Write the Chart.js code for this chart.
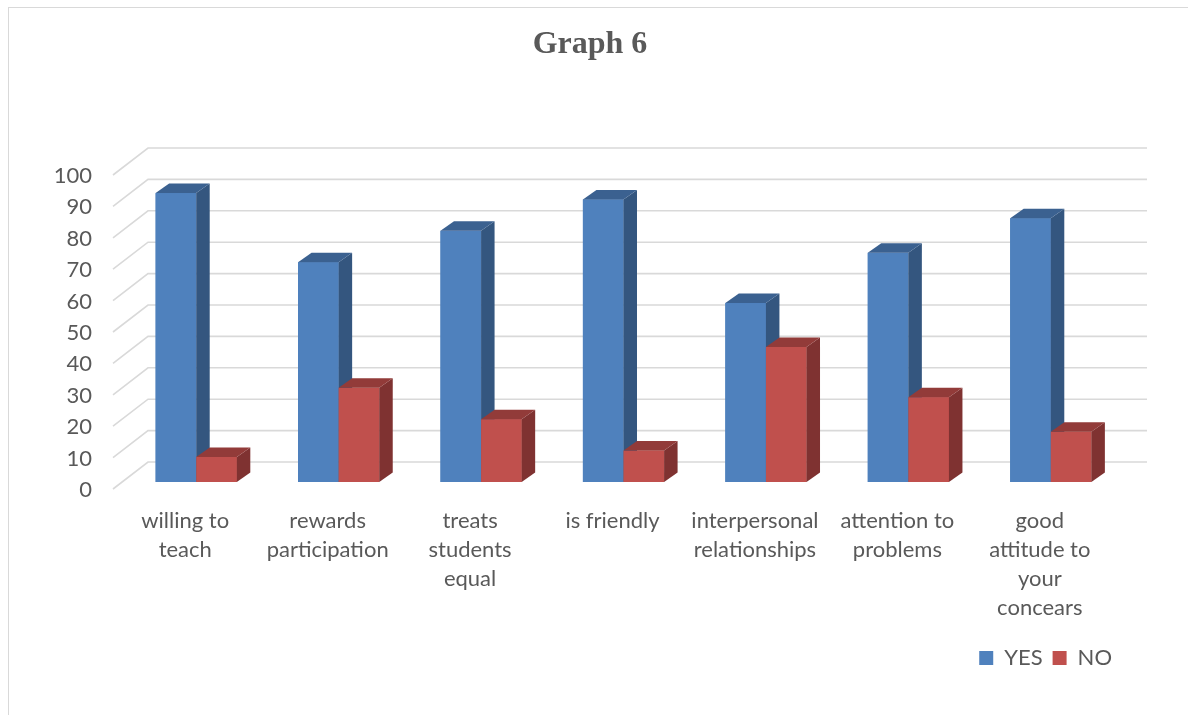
<!DOCTYPE html>
<html>
<head>
<meta charset="utf-8">
<title>Graph 6</title>
<script src="https://cdn.jsdelivr.net/npm/chart.js@4.4.0/dist/chart.umd.min.js"></script>
<style>
    html, body { margin: 0; padding: 0; background: #fff; overflow: hidden; }
    #frame {
        position: absolute; left: 8px; top: 7px; width: 1300px; height: 800px;
        border-left: 1.5px solid #d9d9d9; border-top: 1.5px solid #d9d9d9;
    }
    #wrap { position: absolute; left: 0; top: 0; width: 1188px; height: 715px; }
</style>
</head>
<body>
<div id="frame"></div>
<div id="wrap"><canvas id="graph6"></canvas></div>
<script>
/* -------- data -------- */
const categories = [
    ['willing to', 'teach'],
    ['rewards', 'participation'],
    ['treats', 'students', 'equal'],
    ['is friendly'],
    ['interpersonal', 'relationships'],
    ['attention to', 'problems'],
    ['good', 'attitude to', 'your', 'concears'],
];
const yesValues = [92, 70, 80, 90, 57, 73, 84];
const noValues = [8, 30, 20, 10, 43, 27, 16];
const seriesNames = ['YES', 'NO'];

/* -------- look -------- */
const textColor = '#595959';
const gridColor = '#d9d9d9';
const palette = [
    { front: '#4f81bd', side: '#34567f', top: '#3b6190' },
    { front: '#c0504d', side: '#7f3231', top: '#923b39' },
];
const depth = { dx: 13.5, dy: -9.5 }; // bar thickness
const wallShift = { dx: 23, dy: -20 }; // back wall, relative to the bar plane
const frontShift = { dx: -12, dy: 7 }; // front edge, relative to the bar plane

// fake 3d: back wall grid + box sides/tops on each bar
const box3d = {
    id: 'box3d',
    beforeDatasetsDraw(chart) {
        const { ctx, chartArea, scales } = chart;
        const y = scales.y;
        ctx.save();
        ctx.strokeStyle = gridColor;
        ctx.lineWidth = 1.6;
        y.ticks.forEach((t) => {
            const py = y.getPixelForValue(t.value);
            ctx.beginPath();
            ctx.moveTo(chartArea.left + frontShift.dx, py + frontShift.dy);
            ctx.lineTo(chartArea.left + wallShift.dx, py + wallShift.dy);
            ctx.lineTo(chartArea.right + wallShift.dx + 2, py + wallShift.dy);
            ctx.stroke();
        });
        ctx.restore();
    },
    afterDatasetsDraw(chart) {
        const { ctx } = chart;
        const metas = chart.data.datasets.map((_, i) => chart.getDatasetMeta(i));
        ctx.save();
        // category by category, left series first so the next one covers its side
        categories.forEach((_, i) => {
            metas.forEach((meta, d) => {
                const bar = meta.data[i];
                if (!bar) return;
                const { x, y, base, width } = bar.getProps(['x', 'y', 'base', 'width'], true);
                const c = palette[d];
                const l = x - width / 2;
                const r = x + width / 2;
                ctx.fillStyle = c.front;
                ctx.fillRect(l, y, r - l, base - y);

                ctx.fillStyle = c.side;
                ctx.beginPath();
                ctx.moveTo(r, y);
                ctx.lineTo(r + depth.dx, y + depth.dy);
                ctx.lineTo(r + depth.dx, base + depth.dy);
                ctx.lineTo(r, base);
                ctx.closePath();
                ctx.fill();

                ctx.fillStyle = c.top;
                ctx.beginPath();
                ctx.moveTo(l, y);
                ctx.lineTo(l + depth.dx, y + depth.dy);
                ctx.lineTo(r + depth.dx, y + depth.dy);
                ctx.lineTo(r, y);
                ctx.closePath();
                ctx.fill();
            });
        });
        ctx.restore();
    },
};

const sansFont = (size, extra) => Object.assign({ family: 'Lato', size }, extra || {});

new Chart(document.getElementById('graph6').getContext('2d'), {
    type: 'bar',
    data: {
        labels: categories,
        datasets: [
            {
                label: seriesNames[0],
                data: yesValues,
                backgroundColor: palette[0].front,
                borderWidth: 0,
            },
            {
                label: seriesNames[1],
                data: noValues,
                backgroundColor: palette[1].front,
                borderWidth: 0,
            },
        ],
    },
    options: {
        responsive: true,
        maintainAspectRatio: false,
        animation: false,
        events: [],
        datasets: { bar: { categoryPercentage: 0.57, barPercentage: 1.0 } },
        layout: { padding: { left: 0, right: 8, top: 0, bottom: 36 } },
        scales: {
            x: {
                grid: { display: false, drawTicks: false },
                border: { display: false },
                ticks: {
                    autoSkip: false,
                    maxRotation: 0,
                    padding: 24,
                    labelOffset: -11,
                    color: textColor,
                    font: sansFont(22, { lineHeight: 1.32 }),
                },
                afterFit(scale) {
                    scale.height = 155;
                },
            },
            y: {
                min: 0,
                max: 100,
                grid: { display: false, drawTicks: false },
                border: { display: false },
                ticks: {
                    stepSize: 10,
                    padding: 33,
                    labelOffset: 8,
                    color: textColor,
                    font: sansFont(22),
                },
                afterFit(scale) {
                    scale.width = 125;
                },
            },
            // empty strip on the right, keeps room for the back wall
            yRight: {
                position: 'right',
                min: 0,
                max: 100,
                grid: { display: false, drawTicks: false },
                border: { display: false },
                ticks: { display: false },
                afterFit(scale) {
                    scale.width = 58;
                },
            },
        },
        plugins: {
            title: {
                display: true,
                text: 'Graph 6',
                color: textColor,
                font: { family: 'Liberation Serif', size: 32, weight: 'bold', lineHeight: 1.2 },
                padding: { top: 26, bottom: 103.6 },
            },
            legend: {
                position: 'bottom',
                align: 'end',
                fullSize: false,
                labels: {
                    boxWidth: 14,
                    boxHeight: 14,
                    padding: 10,
                    color: textColor,
                    font: sansFont(22),
                },
            },
            tooltip: { enabled: false },
        },
    },
    plugins: [box3d],
});
</script>
</body>
</html>
